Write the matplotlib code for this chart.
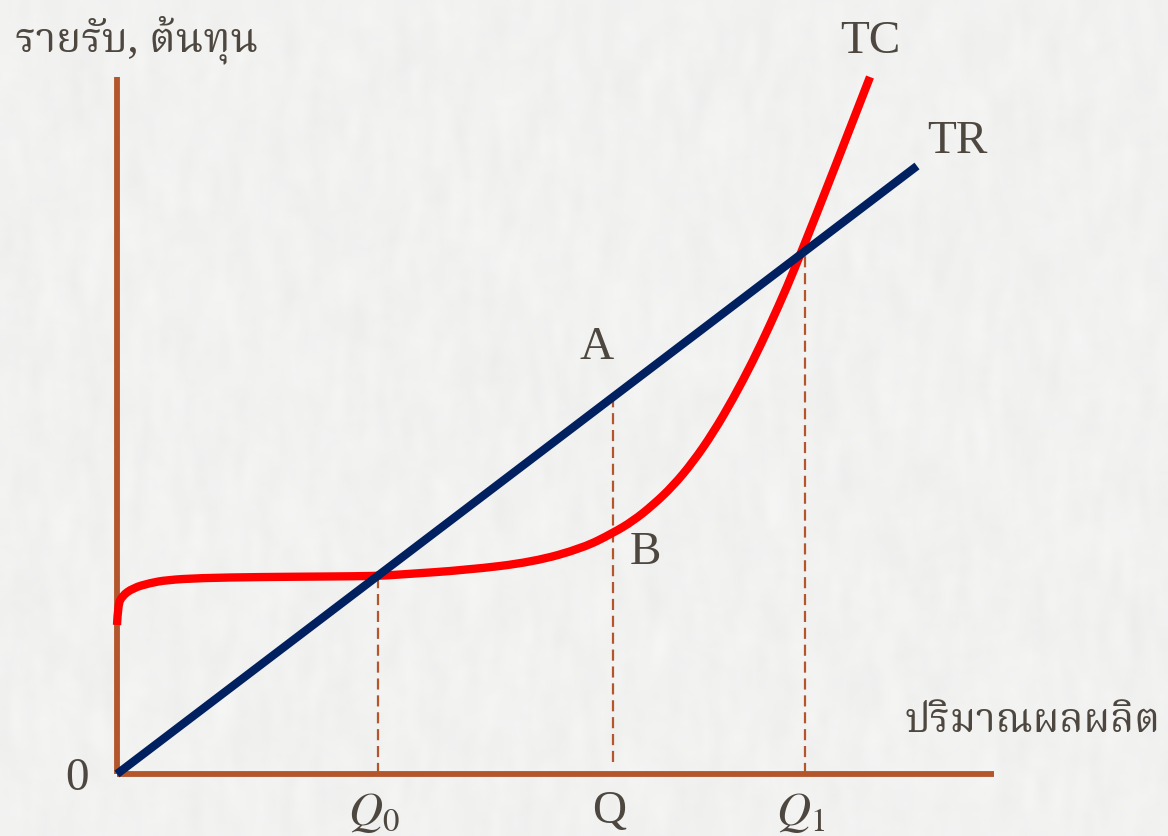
import numpy as np
import matplotlib
matplotlib.use("Agg")
import matplotlib.pyplot as plt
from matplotlib import font_manager
from matplotlib.ft2font import FT2Font
from matplotlib.path import Path
from matplotlib.patches import PathPatch

# ข้อมูลกราฟ (หน่วย: ปริมาณ / บาท)
tr_q = [0.0, 8.0]
tr_v = [0.0, 6.08]

tc_q = [0.00, 0.01, 0.05, 0.16, 0.33, 0.50, 0.83, 1.43, 2.13, 2.61, 2.83,
        3.50, 4.16, 4.66, 4.96, 5.16, 5.36, 5.56, 5.76, 5.96, 6.16, 6.36,
        6.53, 6.70, 6.86, 7.13, 7.53]
tc_v = [1.49, 1.69, 1.78, 1.86, 1.91, 1.94, 1.96, 1.97, 1.975, 1.98, 1.995,
        2.04, 2.12, 2.26, 2.41, 2.53, 2.69, 2.88, 3.12, 3.41, 3.75, 4.13,
        4.49, 4.87, 5.26, 5.94, 6.97]

q_names = ["$Q_0$", "Q", "$Q_1$"]
q_vals = [2.61, 4.96, 6.88]
q_tops = [1.98, 3.77, 5.23]
q_bottoms = [0.0, 0.12, 0.0]

x_label = "ปริมาณผลผลิต"
y_label = "รายรับ, ต้นทุน"


def find_thai_font():
    # หาฟอนต์ที่มีอักษรไทย เลือกฟอนต์ที่ไม่ใช่แบบบิตแมป/โมโน
    found = []
    for path in font_manager.findSystemFonts():
        try:
            cmap = FT2Font(path).get_charmap()
        except Exception:
            continue
        if 0x0E23 in cmap and 0x0E34 in cmap:
            found.append(font_manager.FontProperties(fname=path).get_name())
    prefs = ["Noto Serif Thai", "Noto Sans Thai", "Sarabun", "Norasi",
             "Kinnari", "Loma", "Garuda", "Laksaman", "Waree", "Umpush",
             "Tlwg Typo", "FreeSerif", "FreeSans"]
    for p in prefs:
        for name in found:
            if p.lower() in name.lower():
                return name
    bad = ("unifont", "mono", "typist", "fixed")
    for name in found:
        if not any(b in name.lower() for b in bad):
            return name
    return found[0] if found else None


thai = find_thai_font()
thai_family = [thai, "DejaVu Sans"] if thai else ["DejaVu Sans"]

plt.rcParams["font.family"] = ["Liberation Serif", "DejaVu Serif"]
plt.rcParams["mathtext.fontset"] = "stix"

axis_c = "#b3562c"
text_c = "#4d473f"

fig = plt.figure(figsize=(11.68, 8.36), dpi=100)
fig.patch.set_facecolor("#f0f0ef")

# พื้นหลังลายกระดาษ
bg = fig.add_axes([0, 0, 1, 1], zorder=0)
rng = np.random.default_rng(3)
noise = rng.normal(0, 1, (209, 292))
noise = np.apply_along_axis(lambda r: np.convolve(r, np.ones(9) / 9, mode="same"), 0, noise)
noise = np.apply_along_axis(lambda r: np.convolve(r, np.ones(3) / 3, mode="same"), 1, noise)
shade = np.clip(0.948 + noise * 0.025, 0.9, 1.0)
bg.imshow(np.dstack([shade, shade, shade * 0.997]), aspect="auto",
          interpolation="bicubic")
bg.set_axis_off()

ax = fig.add_axes([0, 0, 1, 1], zorder=1)
ax.patch.set_alpha(0)
ax.set_xlim(-1.17, 10.51)
ax.set_ylim(-0.62, 7.74)
ax.set_axis_off()

# แกน
ax.plot([0, 0], [0, 6.97], color=axis_c, lw=4.2, solid_capstyle="butt", zorder=2)
ax.plot([0, 8.77], [0, 0], color=axis_c, lw=4.2, solid_capstyle="butt", zorder=2)

# เส้นประ
for q, top, bot in zip(q_vals, q_tops, q_bottoms):
    ax.plot([q, q], [bot, top], color=axis_c, lw=1.6, dashes=(5, 2.6), zorder=2)

# เส้น TC แบบโค้งเรียบ (quadratic B-spline ผ่านจุดกึ่งกลาง)
pts = np.column_stack([tc_q, tc_v])
verts = [pts[0]]
codes = [Path.MOVETO]
for i in range(1, len(pts) - 1):
    end = pts[i + 1] if i == len(pts) - 2 else (pts[i] + pts[i + 1]) / 2
    verts += [pts[i], end]
    codes += [Path.CURVE3, Path.CURVE3]
ax.add_patch(PathPatch(Path(verts, codes), fill=False, edgecolor="#ff0000",
                       lw=6.0, capstyle="butt", joinstyle="round", zorder=3))

ax.plot(tr_q, tr_v, color="#00205f", lw=6.0, solid_capstyle="butt", zorder=4)

fs = 34
ax.text(7.53, 7.32, "TC", fontsize=fs, color=text_c, ha="center", va="center")
ax.text(8.40, 6.32, "TR", fontsize=fs, color=text_c, ha="center", va="center")
ax.text(4.80, 4.26, "A", fontsize=fs, color=text_c, ha="center", va="center")
ax.text(5.28, 2.21, "B", fontsize=fs, color=text_c, ha="center", va="center")
ax.text(-0.40, -0.05, "0", fontsize=fs, color=text_c, ha="center", va="center")
for name, q in zip(q_names, q_vals):
    ax.text(q - 0.04, -0.17, name, fontsize=fs, color=text_c, ha="center",
            va="top")

ax.text(-1.02, 7.34, y_label, fontsize=30, color=text_c, ha="left",
        va="center", family=thai_family)
ax.text(10.43, 0.53, x_label, fontsize=29, color=text_c, ha="right",
        va="center", family=thai_family)

fig.savefig("out.png", dpi=100, facecolor=fig.get_facecolor())
